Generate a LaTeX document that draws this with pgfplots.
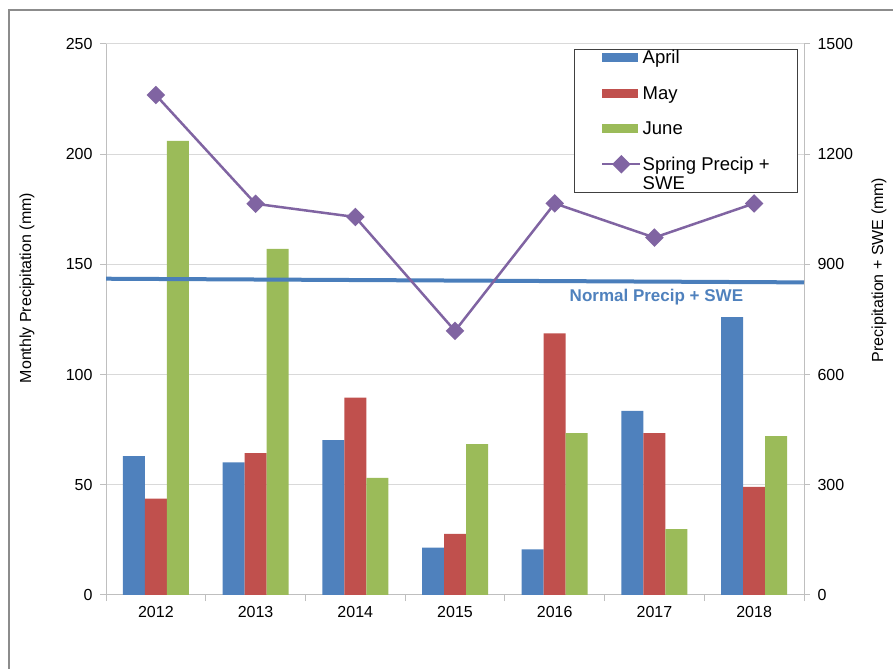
\documentclass[border=0pt]{standalone}
\usepackage{pgfplots}
\pgfplotsset{compat=1.18}
\usepackage{fontspec}
\setmainfont{Liberation Sans}
\definecolor{cApr}{HTML}{4F81BD}
\definecolor{cMay}{HTML}{C0504D}
\definecolor{cJun}{HTML}{9BBB59}
\definecolor{cLine}{HTML}{8064A2}
\definecolor{cNorm}{HTML}{4A7EBB}
\definecolor{cGrid}{HTML}{D9D9D9}
\definecolor{cAxis}{HTML}{BFBFBF}
\pgfplotsset{
  barleg/.style={legend image code/.code={\fill[##1] (0bp,-4.5bp) rectangle (36bp,4.5bp);}},
  lineleg/.style={legend image code/.code={\draw[mark repeat=2, mark phase=2, ##1] plot coordinates {(0bp,9.75bp) (19bp,9.75bp) (38bp,9.75bp)};}},
}
\begin{document}
\begin{tikzpicture}
\path[use as bounding box] (0,0) rectangle (893bp,669bp);
\draw[color=black!45, line width=1.2bp] (9bp,-5bp) -- (9bp,659bp) -- (900bp,659bp);
\pgfplotsset{
  base/.style={
    scale only axis, width=698bp, height=551bp, at={(106bp,74bp)}, anchor=south west,
    xmin=-0.5, xmax=6.5, ymin=0,
    tick label style={font=\fontsize{16bp}{19bp}\selectfont},
    /pgf/number format/assume math mode=true,
    /pgf/number format/1000 sep={},
    scaled y ticks=false,
    label style={font=\fontsize{16bp}{19bp}\selectfont},
    axis line style={cAxis, line width=1bp},
    tick style={cAxis, line width=1bp},
    tick align=outside, major tick length=6bp,
  }
}
\begin{axis}[base,
  ymax=250, ytick={0,50,...,250},
  axis y line*=left, axis x line*=bottom,
  ymajorgrids, grid style={cGrid, line width=1bp},
  xtick={-0.5,0.5,...,6.5},
  xticklabels={2012,2013,2014,2015,2016,2017,2018,{}},
  x tick label style={xshift=49.86bp, yshift=-2bp},
  y tick label style={xshift=-4bp},
  ylabel={Monthly Precipitation (mm)},
  ylabel style={at={(axis description cs:-0.1132,0.557)}, anchor=center},
  ybar=0pt, bar width=22bp,
]
\addplot[fill=cApr, draw=none] coordinates {(0,63.0) (1,60.2) (2,70.3) (3,21.5) (4,20.7) (5,83.5) (6,126.1)};
\addplot[fill=cMay, draw=none] coordinates {(0,43.7) (1,64.4) (2,89.6) (3,27.7) (4,118.7) (5,73.4) (6,49.1)};
\addplot[fill=cJun, draw=none] coordinates {(0,206) (1,157) (2,53.1) (3,68.4) (4,73.4) (5,29.9) (6,72.1)};
\end{axis}
\begin{axis}[base,
  ymax=1500, ytick={0,300,...,1500},
  axis y line*=right, axis x line=none,
  y tick label style={xshift=4bp},
  ylabel={Precipitation + SWE (mm)},
  ylabel style={at={(axis description cs:1.1074,0.59)}, anchor=center},
  legend style={at={(0.6705,0.991)}, anchor=north west, draw=black!75, line width=1bp,
    font=\fontsize{18.5bp}{19.5bp}\selectfont, cells={anchor=west, align=left},
    nodes={inner sep=1bp}, inner xsep=26.7bp, inner ysep=0bp, row sep=19bp,
    /tikz/every even column/.append style={column sep=3bp}},
]
\addplot[cNorm, line width=4bp, forget plot] coordinates {(-0.5,861) (6.5,851)};
\addlegendimage{barleg, fill=cApr, draw=none}
\addlegendentry{April}
\addlegendimage{barleg, fill=cMay, draw=none}
\addlegendentry{May}
\addlegendimage{barleg, fill=cJun, draw=none}
\addlegendentry{June}
\addplot[cLine, line width=2.5bp, mark=square*, mark size=5.3bp, mark options={rotate=45, solid}, lineleg]
  coordinates {(0,1361) (1,1065) (2,1029) (3,719) (4,1066) (5,973) (6,1066)};
\addlegendentry{Spring Precip +\\SWE}
\node[font=\fontsize{17bp}{20bp}\selectfont\bfseries, text=cApr] at (axis cs:5.02,812) {Normal Precip + SWE};
\end{axis}
\end{tikzpicture}
\end{document}
